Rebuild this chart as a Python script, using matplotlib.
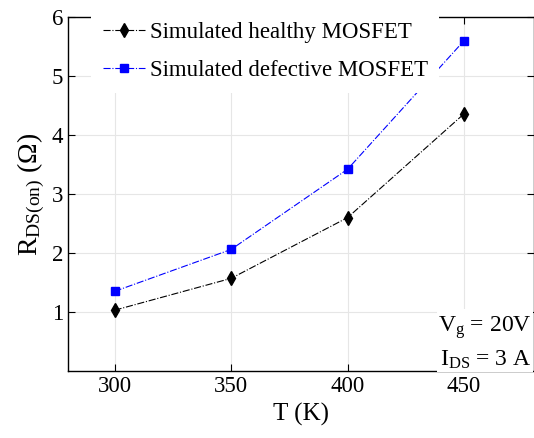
import matplotlib.pyplot as plt

plt.rcParams['font.family'] = ['Liberation Serif', 'DejaVu Serif']
plt.rcParams['mathtext.fontset'] = 'custom'
plt.rcParams['mathtext.rm'] = 'Liberation Serif'
plt.rcParams['mathtext.it'] = 'Liberation Serif'

# data
T = [300, 350, 400, 450]
healthy = [1.03, 1.57, 2.60, 4.36]
defective = [1.35, 2.06, 3.42, 5.60]

fig = plt.figure(figsize=(5.34, 4.38), dpi=100)
ax = fig.add_axes([68/534, 67/438, 466/534, 354/438])

ax.plot(T, healthy, color='k', ls='-.', lw=0.8, marker='d', ms=7,
        label='Simulated healthy MOSFET')
ax.plot(T, defective, color='b', ls='-.', lw=0.8, marker='s', ms=6,
        label='Simulated defective MOSFET')

ax.set_xlim(280, 480)
ax.set_ylim(0, 6)
ax.set_xticks(T)
ax.set_yticks([1, 2, 3, 4, 5, 6])
ax.grid(True, color='#e6e6e6', lw=0.8)
ax.tick_params(direction='in', labelsize=16.5, length=5, width=0.8, top=True, right=True)
for s in ax.spines.values():
    s.set_linewidth(1.0)

ax.set_xlabel('T (K)', fontsize=18, labelpad=4)
ax.set_ylabel(r'R$_{\mathrm{DS(on)}}$ (Ω)', fontsize=20, labelpad=3)

leg = ax.legend(loc='upper left', bbox_to_anchor=(0.025, 1.05), fontsize=16.5,
                frameon=True, fancybox=False, handlelength=1.85, handletextpad=0.2,
                borderpad=0.5, labelspacing=0.75)
leg.get_frame().set_edgecolor('none')
leg.get_frame().set_facecolor('white')
leg.get_frame().set_alpha(1)

# white box sits over the bottom spine like in the original
ax.text(0.995, 0.0, 'V$_\\mathrm{g}$ = 20V\nI$_\\mathrm{DS}$ = 3 A', transform=ax.transAxes,
        ha='right', va='bottom', fontsize=17, linespacing=1.45,
        bbox=dict(facecolor='white', edgecolor='none', pad=1), zorder=5)

fig.savefig('out.png', dpi=100)
